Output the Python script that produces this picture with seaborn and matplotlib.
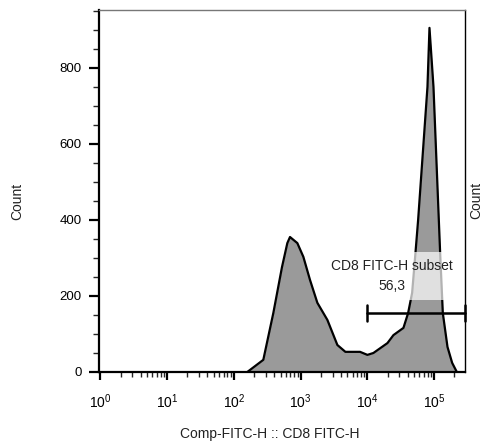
import numpy as np
import pandas as pd
import matplotlib
matplotlib.use("Agg")
import matplotlib.pyplot as plt
import matplotlib.ticker as mticker
import seaborn as sns

# Histogram outline (log10 of intensity, count)
log_x = [2.20, 2.44, 2.59, 2.72, 2.80, 2.84, 2.95, 3.04, 3.14, 3.25, 3.40, 3.55,
         3.67, 3.89, 4.00, 4.09, 4.30, 4.39, 4.54, 4.61, 4.67, 4.72, 4.76, 4.90,
         4.93, 4.99, 5.09, 5.13, 5.20, 5.27, 5.34]
counts = [0, 32, 155, 276, 339, 355, 339, 303, 242, 182, 137, 71,
          53, 53, 45, 50, 76, 97, 116, 155, 208, 313, 400, 750,
          905, 750, 313, 155, 66, 24, 0]

gate_name = "CD8 FITC-H subset"
gate_value = "56,3"
gate_range = [1.0e4, 2.9e5]
gate_level = 155

y_ticks = [0, 200, 400, 600, 800]
x_label = "Comp-FITC-H :: CD8 FITC-H"
y_label = "Count"

sns.set_theme(style="ticks")
plt.rcParams["font.family"] = ["Liberation Sans", "DejaVu Sans"]

df = pd.DataFrame({"x": np.power(10.0, log_x), "count": counts})

fig = plt.figure(figsize=(4.83, 4.45), dpi=100)
ax = fig.add_axes([99 / 483, 1 - 372 / 445, 366 / 483, 362 / 445])

ax.fill_between(df["x"], df["count"], color="#9a9a9a", lw=0, zorder=1)
sns.lineplot(data=df, x="x", y="count", ax=ax, color="black", lw=1.6,
             sort=False, zorder=2)

ax.set_xscale("log")
ax.set_xlim(0.95, 2.9e5)
ax.set_ylim(0, 952)

# Gate
ax.plot(gate_range, [gate_level, gate_level], color="black", lw=1.8, zorder=4,
        clip_on=False)
ax.plot([gate_range[0]] * 2, [gate_level - 22, gate_level + 22], color="black",
        lw=1.8, zorder=4)
ax.plot([gate_range[1]] * 2, [gate_level - 22, gate_level + 22], color="black",
        lw=1.8, zorder=4, clip_on=False)
ax.text(10 ** 4.37, 252, gate_name + "\n" + gate_value, ha="center", va="center",
        fontsize=10, color="#222222", linespacing=1.55, zorder=3,
        bbox=dict(boxstyle="square,pad=0.5", fc="white", ec="none", alpha=0.7))

# Ticks
ax.set_yticks(y_ticks)
ax.yaxis.set_minor_locator(mticker.MultipleLocator(50))
ax.xaxis.set_major_locator(mticker.LogLocator(base=10, numticks=10))
ax.xaxis.set_minor_locator(mticker.LogLocator(base=10, subs=np.arange(2, 10), numticks=20))
ax.xaxis.set_minor_formatter(mticker.NullFormatter())
ax.tick_params(axis="y", which="major", direction="out", length=7.5, width=1.6,
               labelsize=9.5, pad=5, colors="black")
ax.tick_params(axis="y", which="minor", direction="out", length=4.5, width=1.0)
ax.tick_params(axis="x", which="major", direction="out", length=6, width=1.6,
               labelsize=10, pad=9, colors="black")
ax.tick_params(axis="x", which="minor", direction="out", length=3.5, width=1.0)

for s in ["left", "bottom"]:
    ax.spines[s].set_linewidth(1.6)
    ax.spines[s].set_color("black")
for s in ["top", "right"]:
    ax.spines[s].set_visible(True)
    ax.spines[s].set_linewidth(1.0)
ax.spines["top"].set_color("#777777")
ax.spines["right"].set_color("black")

ax.set_xlabel(x_label, fontsize=10, color="#222222")
ax.set_ylabel(y_label, fontsize=10, color="#222222")
ax.xaxis.set_label_coords(0.467, -0.152)
ax.yaxis.set_label_coords(-0.205, 0.47)

# Cut-off label of the neighbouring panel
fig.text(476 / 483, 1 - 200 / 445, y_label, rotation=90, ha="center", va="center",
         fontsize=10, color="#222222")

fig.savefig("out.png", dpi=100)
